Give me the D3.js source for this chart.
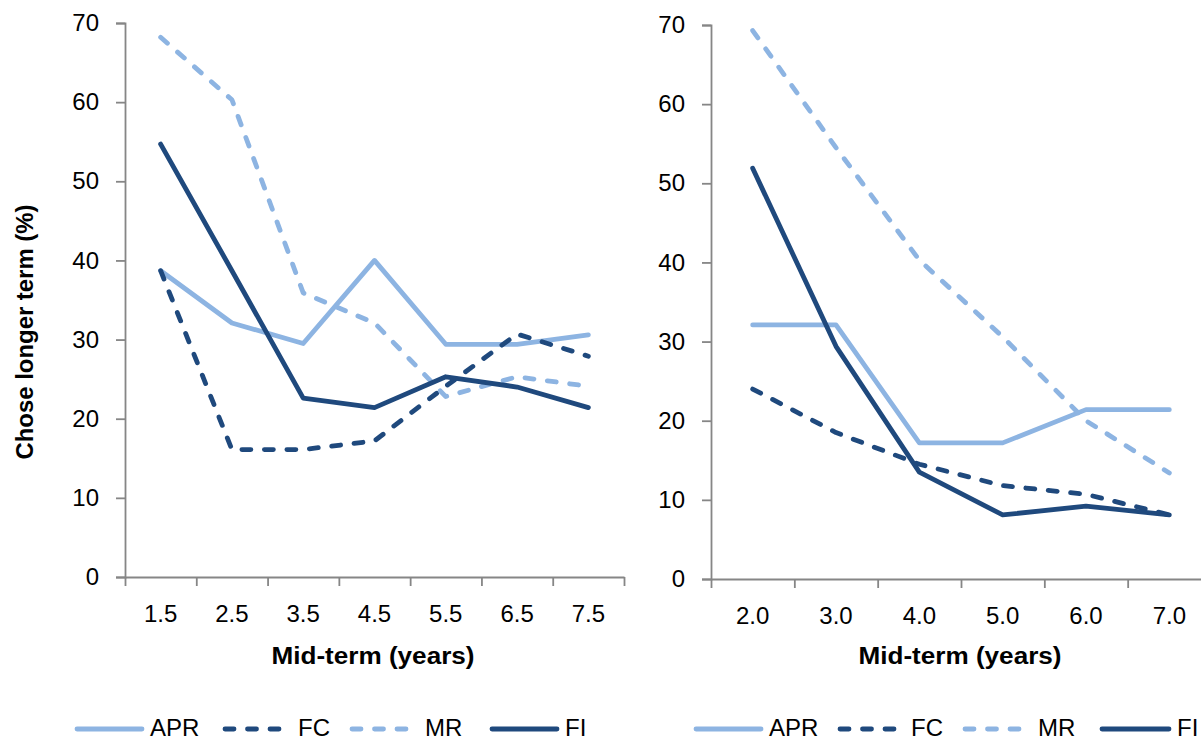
<!DOCTYPE html>
<html>
<head>
<meta charset="utf-8">
<script src="https://cdn.jsdelivr.net/npm/d3@7"></script>
<style>
  html, body { margin: 0; padding: 0; background: #fff; }
  svg { display: block; font-family: "Liberation Sans", Arial, sans-serif; }
</style>
</head>
<body>
<svg id="chart" width="1201" height="740"></svg>
<script>
// ---------- DATA ----------
const seriesNames = ["APR", "FC", "MR", "FI"];
const yTicks = [0, 10, 20, 30, 40, 50, 60, 70];

const leftCategories = ["1.5", "2.5", "3.5", "4.5", "5.5", "6.5", "7.5"];
const leftAPR = [38.7, 32.1, 29.5, 40.0, 29.4, 29.4, 30.6];
const leftFC  = [38.7, 16.1, 16.1, 17.2, 24.1, 30.7, 27.9];
const leftMR  = [68.2, 60.3, 35.9, 32.1, 22.8, 25.3, 24.1];
const leftFI  = [54.7, 38.7, 22.6, 21.4, 25.3, 24.0, 21.4];

const rightCategories = ["2.0", "3.0", "4.0", "5.0", "6.0", "7.0"];
const rightAPR = [32.1, 32.1, 17.2, 17.2, 21.4, 21.4];
const rightFC  = [24.0, 18.5, 14.5, 11.8, 10.7, 8.1];
const rightMR  = [69.3, 54.5, 40.3, 30.6, 20.0, 13.4];
const rightFI  = [51.9, 29.4, 13.5, 8.1, 9.2, 8.1];

const xTitle = "Mid-term (years)";
const yTitle = "Chose longer term (%)";

// ---------- STYLES ----------
const LIGHT = "#8DB4E2";
const DARK = "#1F497D";
const DASH = "9 13.5";
const styleOf = {
  APR: { color: LIGHT, dash: null },
  FC:  { color: DARK,  dash: DASH },
  MR:  { color: LIGHT, dash: DASH },
  FI:  { color: DARK,  dash: null }
};
const LW = 4.8;
const AXIS = "#868686";
const FONT = '"Liberation Sans", Arial, sans-serif';

const svg = d3.select("#chart");

function drawPanel(cfg) {
  const g = svg.append("g");
  const x = d3.scaleBand().domain(cfg.categories).range([cfg.x0, cfg.x1]).padding(0);
  const xb = d3.scaleLinear().domain([0, cfg.categories.length]).range([cfg.x0, cfg.x1]);
  const y = d3.scaleLinear().domain([0, 70]).range([cfg.yBottom, cfg.yTop]);

  // y axis
  const ya = g.append("g").attr("transform", `translate(${cfg.x0},0)`)
    .call(d3.axisLeft(y).tickValues(yTicks).tickSize(9).tickPadding(17));
  ya.select(".domain").attr("stroke", AXIS).attr("stroke-width", 1.8);
  ya.selectAll(".tick line").attr("stroke", AXIS).attr("stroke-width", 1.8);
  ya.selectAll(".tick text").attr("fill", "#000").style("font-size", "24px")
    .style("font-family", FONT);

  // x axis tick marks at band boundaries
  const xt = g.append("g").attr("transform", `translate(0,${cfg.yBottom})`)
    .call(d3.axisBottom(xb).tickValues(d3.range(cfg.categories.length + 1))
      .tickSize(9).tickSizeOuter(0).tickFormat(""));
  xt.select(".domain").attr("stroke", AXIS).attr("stroke-width", 1.8);
  xt.selectAll(".tick line").attr("stroke", AXIS).attr("stroke-width", 1.8);

  // x labels at band centres
  const xl = g.append("g").attr("transform", `translate(0,${cfg.yBottom})`)
    .call(d3.axisBottom(x).tickSize(0).tickPadding(28));
  xl.select(".domain").remove();
  xl.selectAll(".tick text").attr("fill", "#000").style("font-size", "24px")
    .style("font-family", FONT);

  // lines
  const line = d3.line()
    .x((d, i) => x(cfg.categories[i]) + x.bandwidth() / 2)
    .y(d => y(d));
  cfg.series.forEach((vals, k) => {
    const st = styleOf[seriesNames[k]];
    g.append("path").datum(vals)
      .attr("d", line)
      .attr("fill", "none")
      .attr("stroke", st.color)
      .attr("stroke-width", LW)
      .attr("stroke-linecap", "round")
      .attr("stroke-linejoin", "round")
      .attr("stroke-dasharray", st.dash);
  });

  // x title
  g.append("text")
    .attr("x", cfg.titleX).attr("y", 664)
    .attr("text-anchor", "middle")
    .attr("font-weight", "bold").attr("font-size", 23)
    .attr("fill", "#000")
    .attr("textLength", 203).attr("lengthAdjust", "spacingAndGlyphs")
    .text(xTitle);

  // legend
  const lg = g.append("g");
  seriesNames.forEach((name, k) => {
    const st = styleOf[name];
    const sx = cfg.legSym[k], tx = cfg.legText[k];
    lg.append("line")
      .attr("x1", sx + 2).attr("x2", tx - 8)
      .attr("y1", 729).attr("y2", 729)
      .attr("stroke", st.color).attr("stroke-width", LW)
      .attr("stroke-linecap", "round")
      .attr("stroke-dasharray", st.dash);
    lg.append("text")
      .attr("x", tx).attr("y", 736)
      .attr("font-size", 24).attr("fill", "#000")
      .text(name);
  });
  return g;
}

drawPanel({
  categories: leftCategories,
  series: [leftAPR, leftFC, leftMR, leftFI],
  x0: 125, x1: 624, yBottom: 577, yTop: 23,
  titleX: 373,
  legSym: [75, 223, 350, 490],
  legText: [150, 298, 425, 565]
});

drawPanel({
  categories: rightCategories,
  series: [rightAPR, rightFC, rightMR, rightFI],
  x0: 711, x1: 1211, yBottom: 579, yTop: 25,
  titleX: 960,
  legSym: [694, 838, 963, 1100],
  legText: [769, 911, 1038, 1177]
});

// y title (left panel only)
svg.append("text")
  .attr("transform", "translate(33,332) rotate(-90)")
  .attr("text-anchor", "middle")
  .attr("font-weight", "bold").attr("font-size", 23)
  .attr("fill", "#000")
  .attr("textLength", 255).attr("lengthAdjust", "spacingAndGlyphs")
  .text(yTitle);
</script>
</body>
</html>
